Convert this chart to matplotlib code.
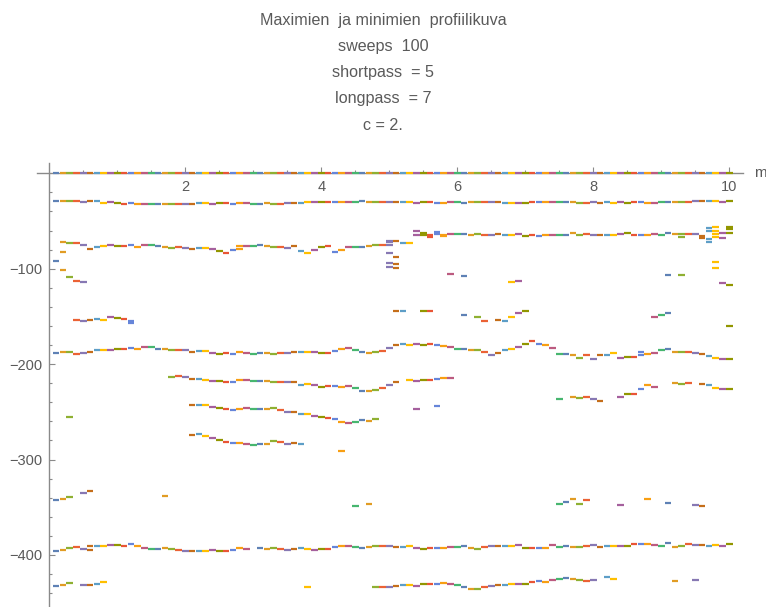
import numpy as np
import matplotlib.pyplot as plt
from matplotlib.ticker import FixedLocator

plt.rcParams['font.family'] = ['Liberation Sans', 'DejaVu Sans']

# Mathematica-paletti, väri kiertää sweep-indeksin k mukaan (x = k/10)
palette = ['#5E81B5', '#E19C24', '#8FB032', '#EB6235', '#8778B3', '#C56E1A', '#5D9EC7', '#FFBF00',
           '#A5609D', '#929600', '#E95536', '#6685D9', '#F89F13', '#BC5B80', '#47B66F']

title_lines = ['Maximien  ja minimien  profiilikuva', 'sweeps  100', 'shortpass  = 5', 'longpass  = 7', 'c = 2.']
x_ticks = [2, 4, 6, 8, 10]
y_ticks = [-400, -300, -200, -100]

# radat: (ensimmäinen k, arvot); None = puuttuu
zero_vals = [0.0] * 100
top_vals = [-28.7, -28.7, -28.7, -28.7, -29.8, -28.7, -28.7, -30.8, -29.8, -30.8, -32.2, -30.8, -32.2, -32.2,
            -32.2, -32.2, -32.2, -32.2, -32.2, -32.2, -32.2, -30.8, -30.8, -32.2, -30.8, -30.8, -32.2, -30.8,
            -30.8, -32.2, -32.2, -30.8, -32.2,
            -32.2, -30.8, -30.8, -30.8, -29.8, -29.8, -29.8, -29.8, -29.8, -29.8, -29.8, -29.8, -28.7, -29.8,
            -29.8, -29.8, -29.8, -29.8, -29.8, -29.8, -30.8, -29.8, -29.8, -30.8, -30.8, -29.8, -29.8, -30.8,
            -29.8, -29.8, -29.8, -29.8, -29.8, -30.8,
            -30.8, -30.8, -30.8, -29.8, -29.8, -29.8, -29.8, -29.8, -29.8, -29.8, -30.8, -30.8, -29.8, -30.8,
            -29.8, -30.8, -29.8, -30.8, -29.8, -29.8, -30.8, -30.8, -29.8, -29.8, -29.8, -29.8, -29.8, -28.7,
            -28.7, -28.7, -28.7, -29.8, -28.7]
mid_left_vals = [-71.7, -72.7, -72.7, -75.2, -79.4, -77.3, -76.2, -75.2, -76.2, -76.2, -75.2, -77.3, -75.2,
                 -75.2, -76.2, -77.3, -78.3, -77.3, -78.3, -79.4, -78.3, -78.3, -79.4, -81.4, -83.5, -80.4,
                 -76.2, -76.2, -76.2, -75.2, -76.2, -77.3, -76.9, -77.9, -75.8, -81.0, -83.1, -80.0, -76.9,
                 -75.8, -82.0, -80.0, -76.9, -76.9, -76.9, -75.8, -74.8, -74.8, -74.8, -70.6, -72.7, -72.7]
mid_right_vals = [-64.4, -64.7, -65.0, -63.6, -64.7, -63.3, -63.3, -63.3, -64.7, -63.3, -64.7, -64.7, -63.3,
                  -64.7, -64.7, -63.3, -65.4, -64.3, -65.4, -64.7, -64.7, -64.7, -64.7, -62.6, -64.7, -63.3,
                  -64.7, -64.7, -64.7, -64.7, -63.3, -62.2, -64.7, -64.7, -64.7, -63.3, -64.7, -62.6, -63.6,
                  -63.5, -63.3, -63.3, -65.5, -60.0, -63.5, -62.9, -62.9]
short_150_vals = [-153.4, -154.5, -153.4, -152.3, -153.4, -150.3, -151.3, -152.3, -154.5]
d_vals = [-188.0, -187.0, -187.0, -189.1, -188.0, -187.0, -184.9, -184.9, -184.9, -183.8, -183.8, -182.8,
          -183.8, -181.7, -181.7, -183.8, -183.8, -184.9, -184.9, -184.9, -187.0, -185.9, -185.9, -188.0,
          -189.1, -188.0, -189.1, -187.0, -188.0, -189.1, -188.0, -188.0, -189.1,
          -188.0, -188.0, -187.0, -187.0, -187.0, -187.0, -188.0, -188.0, -185.9, -183.8, -182.8, -184.9,
          -187.0, -188.0, -187.0, -185.9, -182.8, -179.7, -178.6, -179.7, -178.6, -179.7, -178.6, -179.7,
          -180.7, -181.7, -183.8, -183.8, -184.9, -184.9, -187.0, -190.1, -188.0, -184.9,
          -183.8, -181.7, -178.6, -175.5, -178.6, -179.7, -182.8, -189.1, -189.1, -190.1, -193.3, -190.1,
          -194.3, -190.1, -190.1, -188.0, -193.3, -192.2, -192.2, -187.3, -189.1, -188.0, -184.9, -183.8,
          -187.0, -187.0, -187.0, -188.0, -189.1, -191.2, -193.3, -194.3, -194.3]
e_vals = [-213.2, -212.1, -213.2, -215.3, -215.3, -216.3, -217.4, -217.4, -218.4, -218.4, -216.3, -216.3,
          -217.4, -217.4, -217.4, -218.4, -218.4, -218.4, -218.4, -221.6, -220.5, -221.6, -223.7, -222.6,
          -222.6, -223.7, -222.6, -224.7, -227.8, -227.8, -226.8, -224.7, -221.6, -218.4, None,
          -216.3, -217.4, -216.3, -216.3, -215.3, -214.2, -214.2]
f_vals = [-242.5, -242.5, -242.5, -244.6, -245.7, -246.7, -247.8, -246.7, -245.7, -246.7, -246.7, -246.7,
          -245.7, -247.8, -249.9, -249.9, -252.0, -252.0, -254.1, -255.1, -256.2, -257.2, -260.4, -261.4,
          -260.4, -258.3, -259.3, -257.2]
g_vals = [-274.0, -273.0, -275.1, -277.2, -279.3, -281.4, -282.4, -282.4, -283.5, -284.5, -283.5, -283.5,
          -280.3, -281.4, -283.5, -282.4, -283.5]
k_vals = [-236.2, None, -234.1, -235.2, -234.1, -236.2, -238.3, None, None, -234.1, -231.0, -231.0, -225.8,
          -221.6, -223.7, None, None, -219.5, -220.5, -219.5, None, -220.5, -221.6, -224.7, -225.8, -225.8]
h_vals = [-342.5, -341.1, -339.0, None, -334.8, -332.7]
i_vals = [-395.9, -394.5, -392.4, -391.4, -393.5, -391.0, -390.3, -390.3, -389.3, -389.3, -390.3, -388.3,
          -390.3, -392.4, -393.5, -393.5, -392.4, -393.5, -394.5, -395.6, -395.6, -395.6, -395.6, -394.5,
          -395.6, -395.6, -394.5, -392.4, -393.5, None,
          -393.0, -394.0, -393.0, -394.0, -395.0, -394.0, -393.0, -394.0, -395.0, -394.0, -394.0, -392.0,
          -391.0, -391.0, -392.0, -393.0, -392.0, -391.0, -391.0, -391.0, -392.0, -392.0, -391.0, -393.0,
          -394.0, -393.0, -393.0, -393.0, -392.0, -392.0, -391.0, -393.0, -394.0, -392.0, -391.0, -391.0,
          -390.3, -390.3, -389.3, -392.4, -392.4, -392.4, -392.4, -389.3, -391.4, -390.3, -391.4, -391.4,
          -390.3, -389.3, -391.4, -390.3, -390.3, -390.3, -390.3, -388.3, -388.3, -388.3, -389.3, -390.3,
          -387.2, -391.4, -390.3, -388.3, -389.3, -389.3, -390.3, -389.3, -390.3, -388.3]
j_left_vals = [-432.6, -431.6, -429.5, None, -431.6, -431.6, -430.5, -428.4]
j_mid_vals = [-433.5, -434.0, -433.5, -433.0, -432.0, -432.0, -433.0, -431.0, -430.0, -430.0, -429.0, -431.0,
              -432.0, -434.0, -436.0, -436.0, -434.0, -433.0, -432.0]
j_right_vals = [-431.6, -430.5, -430.5, -430.5, -428.4, -427.4, -428.4, -426.3, -425.3, -424.3, -425.3, -426.3,
                -427.4, -426.3, None, -423.2, -425.3]

# yksittäiset pisteet (k, y)
extra_pts = [(1, -91.6), (2, -82.5), (2, -101.4), (3, -108.7), (4, -112.9), (5, -114.0), (28, -79.0),
             (50, -70.6), (50, -72.2), (50, -83.2), (50, -94.5), (50, -98.0), (51, -87.4), (51, -95.0),
             (51, -99.0), (54, -60.5), (55, -63.0), (56, -66.5), (57, -62.0), (58, -66.0), (93, -66.5),
             (96, -67.8), (97, -57.5), (97, -68.5), (97, -71.5), (98, -56.5), (98, -60.5), (98, -66.5),
             (99, -67.8), (100, -55.8), (100, -58.2),
             (59, -105.2), (61, -107.3), (68, -113.6), (69, -112.6), (91, -106.5), (93, -106.5),
             (98, -92.6), (98, -98.9), (99, -114.7), (100, -117.1),
             (12, -157.0), (51, -144.0), (52, -144.0), (55, -144.0), (56, -144.0), (61, -148.2),
             (63, -150.3), (64, -154.5), (66, -153.4), (67, -154.5), (68, -150.3), (69, -146.1),
             (70, -144.0), (89, -150.3), (90, -148.2), (91, -146.1), (100, -159.7), (87, -190.3),
             (54, -246.7), (57, -243.6), (3, -255.1), (43, -290.7),
             (17, -338.0), (45, -349.0), (47, -347.0), (75, -346.4), (76, -344.3), (77, -341.1),
             (78, -346.4), (79, -342.1), (84, -347.4), (88, -341.1), (91, -345.3), (95, -347.4),
             (96, -348.4), (6, -394.5), (38, -433.6), (92, -427.4), (95, -426.3)]

tracks = [(1, zero_vals), (1, top_vals), (2, mid_left_vals), (54, mid_right_vals), (4, short_150_vals),
          (1, d_vals), (18, e_vals), (21, f_vals), (21, g_vals), (75, k_vals), (1, h_vals), (1, i_vals),
          (1, j_left_vals), (48, j_mid_vals), (67, j_right_vals)]

pts = []
for start, vals in tracks:
    for i, v in enumerate(vals):
        if v is not None:
            pts.append((start + i, v))
pts += extra_pts

ks = np.array([p[0] for p in pts])
ys = np.array([p[1] for p in pts])
xs = ks / 10.0
cols = [palette[(k - 1) % 15] for k in ks]

fig = plt.figure(figsize=(7.66, 6.07), dpi=100)
ax = fig.add_axes([0, 0, 1, 1])
ax.set_xlim(-0.725, 10.54)
ax.set_ylim(-454.6, 181.7)

ax.hlines(ys, xs - 0.048, xs + 0.048, colors=cols, lw=1.6, zorder=3)

axc = '#8a8a8a'
txc = '#5a5a5a'
for s in ['top', 'right']:
    ax.spines[s].set_visible(False)
ax.spines['left'].set_position(('data', 0))
ax.spines['bottom'].set_position(('data', 0))
ax.spines['left'].set_bounds(-454.6, 11)
ax.spines['bottom'].set_bounds(-0.18, 10.2)
for s in ['left', 'bottom']:
    ax.spines[s].set_color(axc)
    ax.spines[s].set_linewidth(1.0)

ax.xaxis.set_major_locator(FixedLocator(x_ticks))
ax.xaxis.set_minor_locator(FixedLocator(np.arange(0.5, 10.01, 0.5)))
ax.yaxis.set_major_locator(FixedLocator(y_ticks))
ax.yaxis.set_minor_locator(FixedLocator(np.arange(-440, 0, 20)))
ax.tick_params(which='both', direction='in', color=axc, width=0.8, labelcolor=txc, labelsize=10.5)
ax.tick_params(which='major', length=4)
ax.tick_params(which='minor', length=2.2)
ax.tick_params(axis='x', pad=4.5)
ax.tick_params(axis='y', pad=5)

ax.text(10.37, 0, 'm', ha='left', va='center', fontsize=11, color=txc)

for i, line in enumerate(title_lines):
    fig.text(0.5, 1 - (20 + 26.3 * i) / 607, line, ha='center', va='center', fontsize=11.6, color=txc)

fig.savefig('out.png', dpi=100)
